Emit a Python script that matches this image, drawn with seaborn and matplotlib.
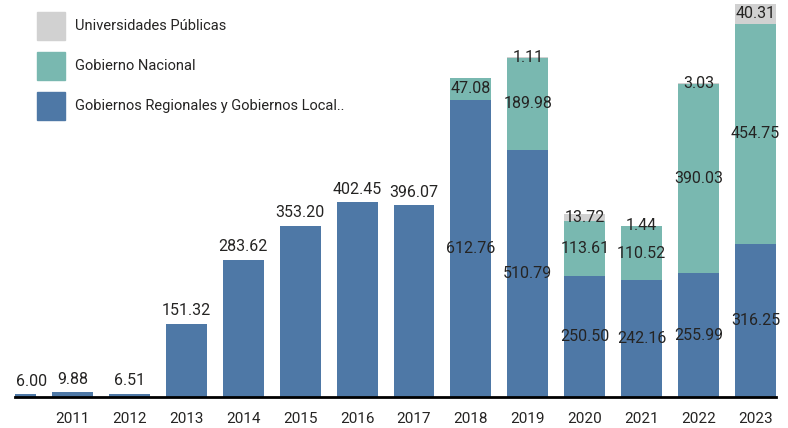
import pandas as pd
import matplotlib.pyplot as plt
import seaborn as sns
from matplotlib.patches import Patch

# Data
years = ['2010', '2011', '2012', '2013', '2014', '2015', '2016', '2017',
         '2018', '2019', '2020', '2021', '2022', '2023']
regional = [6.00, 9.88, 6.51, 151.32, 283.62, 353.20, 402.45, 396.07,
            612.76, 510.79, 250.50, 242.16, 255.99, 316.25]
nacional = [0, 0, 0, 0, 0, 0, 0, 0, 47.08, 189.98, 113.61, 110.52, 390.03, 454.75]
universidades = [0, 0, 0, 0, 0, 0, 0, 0, 0, 1.11, 13.72, 1.44, 3.03, 40.31]
tick_years = years[1:]

series_names = ['Gobiernos Regionales y Gobiernos Local..', 'Gobierno Nacional', 'Universidades Públicas']
colors = ['#4e78a6', '#79b8b0', '#d1d1d1']

df = pd.DataFrame({'year': years, 'regional': regional,
                   'nacional': nacional, 'universidades': universidades})
df['cum1'] = df['regional']
df['cum2'] = df['cum1'] + df['nacional']
df['cum3'] = df['cum2'] + df['universidades']

sns.set_style('white')
plt.rcParams['font.family'] = ['Roboto', 'DejaVu Sans']

fig = plt.figure(figsize=(7.88, 4.28), dpi=100)
ax = fig.add_axes([15 / 788, 31 / 428, 761 / 788, 397 / 428])

bar_w = 0.72
# stacked bars drawn as overlapping cumulative totals
sns.barplot(data=df, x='year', y='cum3', color=colors[2], width=bar_w, saturation=1, linewidth=0, ax=ax)
sns.barplot(data=df, x='year', y='cum2', color=colors[1], width=bar_w, saturation=1, linewidth=0, ax=ax)
sns.barplot(data=df, x='year', y='cum1', color=colors[0], width=bar_w, saturation=1, linewidth=0, ax=ax)

ax.set_xlim(-0.01, 13.36)
ax.set_ylim(0, 820)

# Data labels
txt_color = '#252423'
for i, row in df.iterrows():
    stacked = row['nacional'] > 0 or row['universidades'] > 0
    xpos = i
    ha = 'center'
    if i == 0:
        xpos = ax.get_xlim()[0] + 0.01
        ha = 'left'
    if not stacked:
        ax.annotate(f"{row['regional']:.2f}", (xpos, row['regional']), xytext=(0, 4),
                    textcoords='offset points', ha=ha, va='bottom', fontsize=11.5, color=txt_color)
        continue
    segs = [(0, row['cum1'], row['regional']),
            (row['cum1'], row['cum2'], row['nacional']),
            (row['cum2'], row['cum3'], row['universidades'])]
    for lo, hi, v in segs:
        if v > 0:
            ax.text(xpos, (lo + hi) / 2, f"{v:.2f}", ha=ha, va='center',
                    fontsize=11.5, color=txt_color)

ax.set_xticks(range(1, 14))
ax.set_xticklabels(tick_years, fontsize=11, color=txt_color)
ax.tick_params(axis='x', length=0, pad=11)
ax.set_yticks([])
ax.set_xlabel('')
ax.set_ylabel('')
for s in ['top', 'right', 'left']:
    ax.spines[s].set_visible(False)
ax.spines['bottom'].set_color('black')
ax.spines['bottom'].set_linewidth(2)

handles = [Patch(color=colors[2]), Patch(color=colors[1]), Patch(color=colors[0])]
labels = [series_names[2], series_names[1], series_names[0]]
ax.legend(handles, labels, loc='upper left', bbox_to_anchor=(37 / 788, 1 - 12 / 428),
          bbox_transform=fig.transFigure, frameon=False, fontsize=10.5,
          handlelength=1.92, handleheight=2.58, labelspacing=0.82, handletextpad=0.7,
          borderpad=0, borderaxespad=0, labelcolor=txt_color)

fig.savefig('out.png', dpi=100)
